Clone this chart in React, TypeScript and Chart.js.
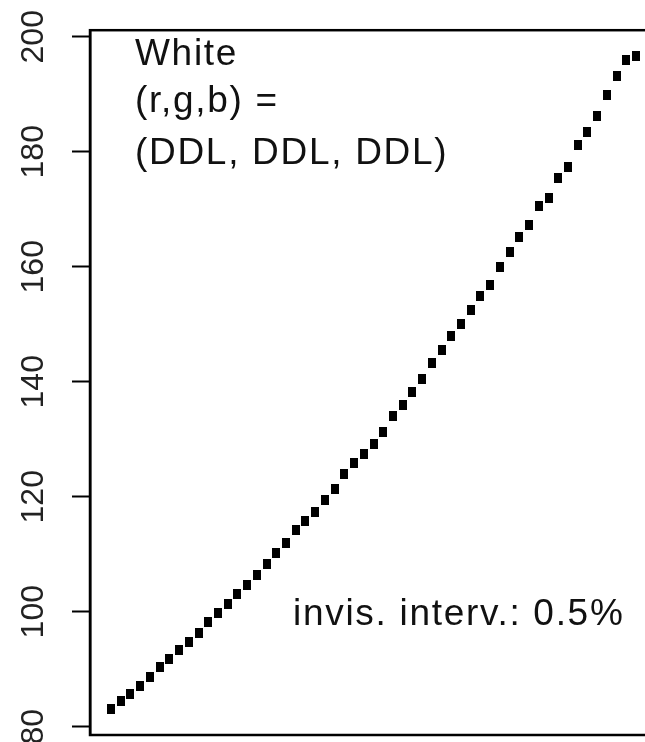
import React, { useEffect, useRef } from "react";
import { Chart, registerables } from "chart.js";

Chart.register(...registerables);

const indices = [
  1, 2, 3, 4, 5, 6, 7, 8, 9, 10, 11, 12, 13, 14, 15, 16, 17, 18, 19, 20,
  21, 22, 23, 24, 25, 26, 27, 28, 29, 30, 31, 32, 33, 34, 35, 36, 37, 38, 39, 40,
  41, 42, 43, 44, 45, 46, 47, 48, 49, 50, 51, 52, 53, 54, 55,
];

const values = [
  83.1, 84.4, 85.7, 87.0, 88.6, 90.3, 91.7, 93.3, 94.8, 96.3,
  98.3, 99.7, 101.4, 103.1, 104.7, 106.4, 108.3, 110.2, 111.9, 114.2,
  115.7, 117.4, 119.4, 121.4, 123.9, 125.8, 127.5, 129.2, 131.2, 134.1,
  136.0, 138.3, 140.5, 143.2, 145.5, 148.0, 150.0, 152.4, 154.9, 156.9,
  159.9, 162.5, 165.2, 167.3, 170.6, 172.0, 175.5, 177.4, 181.2, 183.4,
  186.3, 189.9, 193.2, 196.0, 196.6,
];

const yTicks = [80, 100, 120, 140, 160, 180, 200];

const topLabelLines = ["White", "(r,g,b) =", "(DDL, DDL, DDL)"];
const bottomLabel = "invis. interv.: 0.5%";

export default function App() {
  const ref = useRef<HTMLCanvasElement | null>(null);

  useEffect(() => {
    if (!ref.current) return;

    const marker = document.createElement("canvas");
    marker.width = 8;
    marker.height = 10;
    const mctx = marker.getContext("2d")!;
    mctx.fillStyle = "#000";
    mctx.fillRect(0, 0, 8, 10);

    const xMin = indices[0] - 0.04 * (indices[indices.length - 1] - indices[0]);
    const xMax = indices[indices.length - 1] + 0.04 * (indices[indices.length - 1] - indices[0]);
    const vMin = Math.min(...values);
    const vMax = Math.max(...values);
    const yMin = vMin - 0.04 * (vMax - vMin);
    const yMax = vMax + 0.04 * (vMax - vMin);

    const boxAndText = {
      id: "boxAndText",
      afterDatasetsDraw(chart: any) {
        const { ctx, chartArea } = chart;
        ctx.save();
        ctx.strokeStyle = "#000";
        ctx.lineWidth = 2.5;
        ctx.strokeRect(chartArea.left, chartArea.top, chartArea.right - chartArea.left, chartArea.bottom - chartArea.top);
        ctx.fillStyle = "#111";
        ctx.font = "37px 'Liberation Sans', Arial, sans-serif";
        (ctx as any).letterSpacing = "1.7px";
        ctx.textAlign = "left";
        ctx.textBaseline = "alphabetic";
        const baselines = [65, 112, 164];
        topLabelLines.forEach((t, i) => ctx.fillText(t, 135, baselines[i]));
        ctx.fillText(bottomLabel, 293, 625);
        ctx.restore();
      },
    };

    const chart = new Chart(ref.current, {
      type: "scatter",
      data: {
        datasets: [
          {
            data: indices.map((x, i) => ({ x, y: values[i] })),
            pointStyle: marker as any,
            pointRadius: 5,
            backgroundColor: "#000",
            borderColor: "#000",
          },
        ],
      },
      plugins: [boxAndText],
      options: {
        animation: false,
        responsive: false,
        maintainAspectRatio: false,
        events: [],
        layout: { padding: { top: 26.7, right: 43, bottom: 45, left: 0 } },
        plugins: { legend: { display: false }, tooltip: { enabled: false } },
        scales: {
          x: { type: "linear", min: xMin, max: xMax, display: false },
          y: {
            type: "linear",
            min: yMin,
            max: yMax,
            afterFit(scale: any) {
              scale.width = 90;
            },
            afterBuildTicks(scale: any) {
              scale.ticks = yTicks.map((v) => ({ value: v }));
            },
            border: { display: true, color: "#000", width: 2.5 },
            grid: {
              drawOnChartArea: false,
              drawTicks: true,
              tickLength: 18,
              tickWidth: 2,
              tickColor: "#000",
            },
            ticks: {
              color: "#222",
              font: { family: "'Liberation Sans', Arial, sans-serif", size: 32 },
              minRotation: 90,
              maxRotation: 90,
              crossAlign: "center",
              padding: 11,
            },
          },
        },
      },
    });
    return () => chart.destroy();
  }, []);

  return (
    <div style={{ position: "fixed", left: 0, top: 0, width: 645, height: 742, overflow: "hidden", background: "#fff" }}>
      <canvas ref={ref} width={700} height={780} style={{ display: "block", width: 700, height: 780 }} />
    </div>
  );
}
